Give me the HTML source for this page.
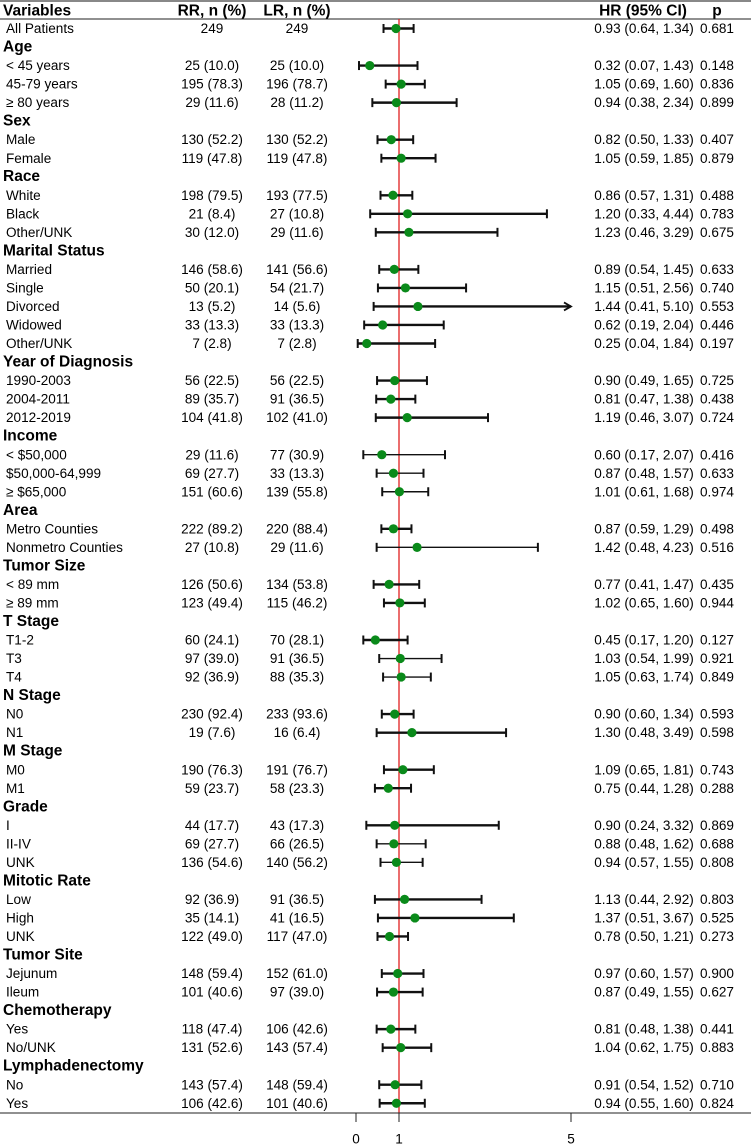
<!DOCTYPE html>
<html><head><meta charset="utf-8"><style>
html,body{margin:0;padding:0;background:#fff;}
svg{display:block;font-family:"Liberation Sans",Arial,sans-serif;}
</style></head><body>
<svg id="chart" width="751" height="1145" viewBox="0 0 751 1145" xmlns="http://www.w3.org/2000/svg">
<rect x="0" y="0" width="751" height="2" fill="#888"/>
</svg>
<script>
const labels=["All Patients","Age","< 45 years","45-79 years","≥ 80 years","Sex","Male","Female","Race","White","Black","Other/UNK","Marital Status","Married","Single","Divorced","Widowed","Other/UNK","Year of Diagnosis","1990-2003","2004-2011","2012-2019","Income","< $50,000","$50,000-64,999","≥ $65,000","Area","Metro Counties","Nonmetro Counties","Tumor Size","< 89 mm","≥ 89 mm","T Stage","T1-2","T3","T4","N Stage","N0","N1","M Stage","M0","M1","Grade","I","II-IV","UNK","Mitotic Rate","Low","High","UNK","Tumor Site","Jejunum","Ileum","Chemotherapy","Yes","No/UNK","Lymphadenectomy","No","Yes"];
const isGroup=[0,1,0,0,0,1,0,0,1,0,0,0,1,0,0,0,0,0,1,0,0,0,1,0,0,0,1,0,0,1,0,0,1,0,0,0,1,0,0,1,0,0,1,0,0,0,1,0,0,0,1,0,0,1,0,0,1,0,0];
const rr=["249","","25 (10.0)","195 (78.3)","29 (11.6)","","130 (52.2)","119 (47.8)","","198 (79.5)","21 (8.4)","30 (12.0)","","146 (58.6)","50 (20.1)","13 (5.2)","33 (13.3)","7 (2.8)","","56 (22.5)","89 (35.7)","104 (41.8)","","29 (11.6)","69 (27.7)","151 (60.6)","","222 (89.2)","27 (10.8)","","126 (50.6)","123 (49.4)","","60 (24.1)","97 (39.0)","92 (36.9)","","230 (92.4)","19 (7.6)","","190 (76.3)","59 (23.7)","","44 (17.7)","69 (27.7)","136 (54.6)","","92 (36.9)","35 (14.1)","122 (49.0)","","148 (59.4)","101 (40.6)","","118 (47.4)","131 (52.6)","","143 (57.4)","106 (42.6)"];
const lr=["249","","25 (10.0)","196 (78.7)","28 (11.2)","","130 (52.2)","119 (47.8)","","193 (77.5)","27 (10.8)","29 (11.6)","","141 (56.6)","54 (21.7)","14 (5.6)","33 (13.3)","7 (2.8)","","56 (22.5)","91 (36.5)","102 (41.0)","","77 (30.9)","33 (13.3)","139 (55.8)","","220 (88.4)","29 (11.6)","","134 (53.8)","115 (46.2)","","70 (28.1)","91 (36.5)","88 (35.3)","","233 (93.6)","16 (6.4)","","191 (76.7)","58 (23.3)","","43 (17.3)","66 (26.5)","140 (56.2)","","91 (36.5)","41 (16.5)","117 (47.0)","","152 (61.0)","97 (39.0)","","106 (42.6)","143 (57.4)","","148 (59.4)","101 (40.6)"];
const hr=[0.93,null,0.32,1.05,0.94,null,0.82,1.05,null,0.86,1.20,1.23,null,0.89,1.15,1.44,0.62,0.25,null,0.90,0.81,1.19,null,0.60,0.87,1.01,null,0.87,1.42,null,0.77,1.02,null,0.45,1.03,1.05,null,0.90,1.30,null,1.09,0.75,null,0.90,0.88,0.94,null,1.13,1.37,0.78,null,0.97,0.87,null,0.81,1.04,null,0.91,0.94];
const lo=[0.64,null,0.07,0.69,0.38,null,0.50,0.59,null,0.57,0.33,0.46,null,0.54,0.51,0.41,0.19,0.04,null,0.49,0.47,0.46,null,0.17,0.48,0.61,null,0.59,0.48,null,0.41,0.65,null,0.17,0.54,0.63,null,0.60,0.48,null,0.65,0.44,null,0.24,0.48,0.57,null,0.44,0.51,0.50,null,0.60,0.49,null,0.48,0.62,null,0.54,0.55];
const hi=[1.34,null,1.43,1.60,2.34,null,1.33,1.85,null,1.31,4.44,3.29,null,1.45,2.56,5.10,2.04,1.84,null,1.65,1.38,3.07,null,2.07,1.57,1.68,null,1.29,4.23,null,1.47,1.60,null,1.20,1.99,1.74,null,1.34,3.49,null,1.81,1.28,null,3.32,1.62,1.55,null,2.92,3.67,1.21,null,1.57,1.55,null,1.38,1.75,null,1.52,1.60];
const pv=["0.681","","0.148","0.836","0.899","","0.407","0.879","","0.488","0.783","0.675","","0.633","0.740","0.553","0.446","0.197","","0.725","0.438","0.724","","0.416","0.633","0.974","","0.498","0.516","","0.435","0.944","","0.127","0.921","0.849","","0.593","0.598","","0.743","0.288","","0.869","0.688","0.808","","0.803","0.525","0.273","","0.900","0.627","","0.441","0.883","","0.710","0.824"];
const thin=[23,24,25,28,34,35,44,45];
const ticks=[0,1,5];

const svg=document.getElementById('chart');
const NS="http://www.w3.org/2000/svg";
const X0=356, XS=43, XMAX=5;
const xs=v=>X0+Math.min(v,XMAX)*XS;
const ys=i=>28.5+i*18.53;
function mk(tag,attrs,parent){const e=document.createElementNS(NS,tag);for(const k in attrs)e.setAttribute(k,attrs[k]);(parent||svg).appendChild(e);return e;}
function txt(s,x,y,anchor,bold,size,name,sx){
  const g=mk('g',{transform:`translate(${x},${y}) scale(${sx||0.97},1)`});
  const t=mk('text',{x:0,y:0,'text-anchor':anchor,'font-size':size,'font-weight':bold?'bold':'normal','dominant-baseline':'central',fill:'#000'},g);
  t.textContent=s;
  
  
  return t;
}
txt("Variables",3,11,'start',true,15.5,'variables-header',1);
txt("RR, n (%)",212,11,'middle',true,15.5,'rr-header',1);
txt("LR, n (%)",297,11,'middle',true,15.5,'lr-header',1);
txt("HR (95% CI)",643,11,'middle',true,15.5,'hr-header',1);
txt("p",717,11,'middle',true,15.5,'p-header',1);
const hl=mk('line',{x1:0,x2:751,y1:19,y2:19,stroke:'#222','stroke-width':1});


const ref=mk('line',{x1:xs(1),x2:xs(1),y1:19,y2:1113,stroke:'#e02020','stroke-width':1.3});


labels.forEach((lab,i)=>{
  const y=ys(i);
  if(isGroup[i]){txt(lab,3,y,'start',true,15.5,'group-label',1);return;}
  txt(lab,6,y,'start',false,14,'row-label');
  txt(rr[i],212,y,'middle',false,14,'rr-value');
  txt(lr[i],297,y,'middle',false,14,'lr-value');
  txt(hr[i].toFixed(2)+" ("+lo[i].toFixed(2)+", "+hi[i].toFixed(2)+")",644,y,'middle',false,14,'hr-ci-text');
  txt(pv[i],717,y,'middle',false,14,'p-value');
  const w=thin.includes(i)?1.4:2.4;
  const a=xs(lo[i]),b=xs(hi[i]);
  const ci=mk('line',{x1:a,x2:b,y1:y,y2:y,stroke:'#111','stroke-width':w});
  
  
  const c1=mk('line',{x1:a,x2:a,y1:y-4.5,y2:y+4.5,stroke:'#111','stroke-width':2});
  
  
  if(hi[i]>XMAX){
    const ar=mk('path',{d:`M${b-7},${y-4} L${b},${y} L${b-7},${y+4}`,fill:'none',stroke:'#111','stroke-width':1.8});
    
    
  }else{
    const c2=mk('line',{x1:b,x2:b,y1:y-4.5,y2:y+4.5,stroke:'#111','stroke-width':2});
    
    
  }
  const pt=mk('circle',{cx:xs(hr[i]),cy:y,r:4.6,fill:'#0a8a1a'});
  
  
});
const ax=mk('line',{x1:0,x2:751,y1:1113,y2:1113,stroke:'#222','stroke-width':1});


ticks.forEach(t=>{
  const tk=mk('line',{x1:xs(t),x2:xs(t),y1:1113,y2:1122,stroke:'#222','stroke-width':1});
  
  
  txt(String(t),xs(t),1139,'middle',false,14,'x-tick-label');
});
</script>
</body></html>
